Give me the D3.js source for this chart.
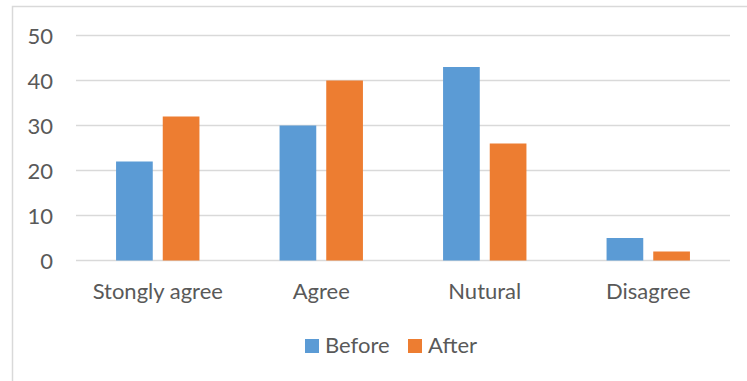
<!DOCTYPE html>
<html>
<head>
<meta charset="utf-8">
<script src="https://cdn.jsdelivr.net/npm/d3@7/dist/d3.min.js"></script>
<style>
  html, body { margin: 0; padding: 0; background: #fff; }
  svg { display: block; }
  text { font-family: Lato, "Open Sans", sans-serif; fill: #595959; }
</style>
</head>
<body>
<svg id="chart" width="747" height="381"></svg>
<script>
// Survey responses before and after
const categories = ["Stongly agree", "Agree", "Nutural", "Disagree"];
const seriesNames = ["Before", "After"];
const beforeValues = [22, 30, 43, 5];
const afterValues = [32, 40, 26, 2];
const yTicks = [0, 10, 20, 30, 40, 50];
const colors = ["#5b9bd5", "#ed7d31"];

const width = 747, height = 381;
const plot = { left: 76, right: 730, top: 35.5, bottom: 260.5 };
const fontSize = 22;

const svg = d3.select("#chart");

// Chart area frame
svg.append("path")
  .attr("d", `M12.5,${height} L12.5,6.5 L${width},6.5`)
  .attr("fill", "none")
  .attr("stroke", "#d9d9d9")
  .attr("stroke-width", 1.5);

const y = d3.scaleLinear().domain([0, 50]).range([plot.bottom, plot.top]);

const x0 = d3.scaleBand()
  .domain(categories)
  .range([plot.left, plot.right])
  .paddingInner(0.49)
  .paddingOuter(0.245);

const x1 = d3.scaleBand()
  .domain(seriesNames)
  .range([0, x0.bandwidth()])
  .paddingInner(0.214);

// Horizontal gridlines
svg.append("g")
  .selectAll("line")
  .data(yTicks)
  .join("line")
  .attr("x1", plot.left)
  .attr("x2", plot.right)
  .attr("y1", d => y(d))
  .attr("y2", d => y(d))
  .attr("stroke", "#d9d9d9")
  .attr("stroke-width", 1.5);

// Y axis labels
const yAxis = d3.axisLeft(y).tickValues(yTicks).tickSize(0).tickPadding(0);
const yg = svg.append("g")
  .attr("transform", `translate(53,0)`)
  .call(yAxis);
yg.select(".domain").remove();
yg.selectAll("text")
  .attr("font-size", fontSize)
  .attr("font-family", "Lato, sans-serif")
  .attr("fill", "#595959")
  .attr("dy", "0.36em");

// Bars
const rows = categories.map((c, i) => ({ cat: c, vals: [beforeValues[i], afterValues[i]] }));
const groups = svg.append("g")
  .selectAll("g")
  .data(rows)
  .join("g")
  .attr("transform", d => `translate(${x0(d.cat)},0)`);

groups.selectAll("rect")
  .data(d => d.vals.map((v, j) => ({ key: seriesNames[j], value: v, j })))
  .join("rect")
  .attr("x", d => x1(d.key))
  .attr("width", x1.bandwidth())
  .attr("y", d => y(d.value))
  .attr("height", d => y(0) - y(d.value))
  .attr("fill", d => colors[d.j]);

// Category labels
const xAxis = d3.axisBottom(x0).tickSize(0).tickPadding(0);
const xg = svg.append("g")
  .attr("transform", `translate(0,${plot.bottom})`)
  .call(xAxis);
xg.select(".domain").remove();
xg.selectAll("text")
  .attr("font-size", fontSize)
  .attr("font-family", "Lato, sans-serif")
  .attr("fill", "#595959")
  .attr("dy", null)
  .attr("y", 38);

// Legend
const legendItems = [
  { name: seriesNames[0], color: colors[0], x: 305 },
  { name: seriesNames[1], color: colors[1], x: 408 }
];
const lg = svg.append("g").selectAll("g").data(legendItems).join("g")
  .attr("transform", d => `translate(${d.x},339)`);
lg.append("rect")
  .attr("width", 14)
  .attr("height", 14)
  .attr("fill", d => d.color);
lg.append("text")
  .attr("x", 20)
  .attr("y", 14)
  .attr("font-size", fontSize)
  .text(d => d.name);
</script>
</body>
</html>
